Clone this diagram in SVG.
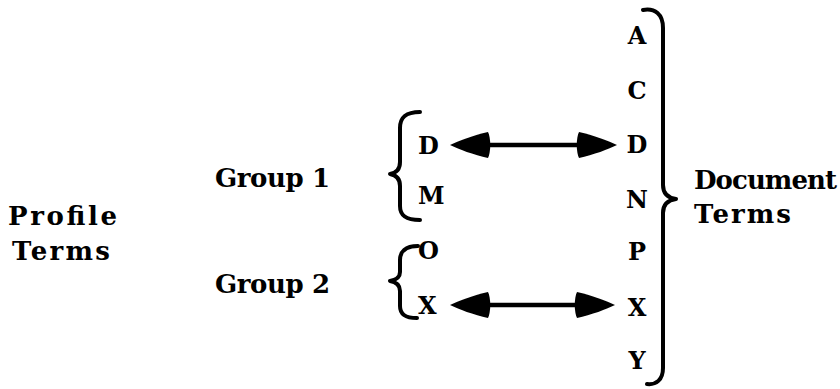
<svg xmlns="http://www.w3.org/2000/svg" width="840" height="389" viewBox="0 0 840 389">
  <style>
    .t { font-family: "DejaVu Serif", "Liberation Serif", serif; font-weight: bold; fill: #000; }
    .w { font-size: 26px; }
    .l { font-size: 24px; }
    .brace { fill: none; stroke: #000; stroke-width: 4; stroke-linecap: round; stroke-linejoin: round; }
    .arrow { fill: none; stroke: #000; stroke-width: 4.5; marker-start: url(#head); marker-end: url(#head); }
  </style>
  <defs>
    <marker id="head" markerUnits="userSpaceOnUse" viewBox="0 -15 42 30" markerWidth="42" markerHeight="30" refX="22" refY="0" orient="auto-start-reverse">
      <path d="M42,0 C34,-4 18,-10 4,-13 C1,-7 1,7 4,13 C18,10 34,4 42,0 Z" fill="#000"/>
    </marker>
  </defs>
  <rect width="840" height="389" fill="#fff"/>

  <g id="profile-terms">
    <text class="t w" x="8" y="225" textLength="109" lengthAdjust="spacing">Profile</text>
    <text class="t w" x="12" y="260" textLength="98" lengthAdjust="spacing">Terms</text>
  </g>

  <g id="group1">
    <text class="t w" x="215" y="187" textLength="115" lengthAdjust="spacing">Group 1</text>
    <path class="brace" d="M420,112 C405,112 400,118 400,128 L400,162 C400,170 396,173 390,174 C396,175 400,178 400,186 L400,206 C400,215 405,220 420,220"/>
    <text class="t l" x="418" y="154">D</text>
    <text class="t l" x="418" y="204">M</text>
  </g>

  <g id="group2">
    <text class="t w" x="215" y="293" textLength="115" lengthAdjust="spacing">Group 2</text>
    <path class="brace" d="M418,246 C405,246 400,252 400,260 L400,272 C400,277 396,280 390,281 C396,282 400,285 400,291 L400,306 C400,314 405,318 417,318"/>
    <text class="t l" x="418" y="259">O</text>
    <text class="t l" x="418" y="314">X</text>
  </g>

  <g id="document-terms">
    <text class="t l" x="637" y="44" text-anchor="middle">A</text>
    <text class="t l" x="637" y="99" text-anchor="middle">C</text>
    <text class="t l" x="637" y="153" text-anchor="middle">D</text>
    <text class="t l" x="637" y="208" text-anchor="middle">N</text>
    <text class="t l" x="637" y="260" text-anchor="middle">P</text>
    <text class="t l" x="637" y="316" text-anchor="middle">X</text>
    <text class="t l" x="637" y="369" text-anchor="middle">Y</text>
    <path class="brace" d="M643,10 C655,8 663,14 663,28 L663,185 C663,194 669,198 676,199 C669,200 663,204 663,213 L663,368 C663,380 656,385 647,384"/>
    <text class="t w" x="694" y="189" textLength="143" lengthAdjust="spacing">Document</text>
    <text class="t w" x="694" y="223" textLength="97" lengthAdjust="spacing">Terms</text>
  </g>

  <g id="connectors">
    <line class="arrow" x1="470" y1="145" x2="597" y2="145"/>
    <line class="arrow" x1="470" y1="305" x2="595" y2="305"/>
  </g>
</svg>
